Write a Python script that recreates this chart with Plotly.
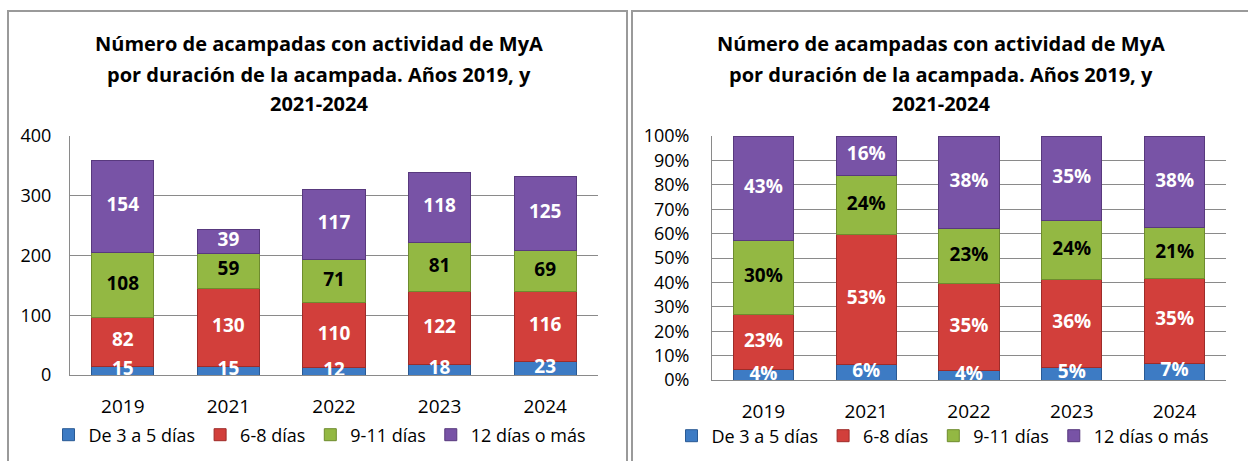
import plotly.graph_objects as go

years = ["2019", "2021", "2022", "2023", "2024"]
series_names = ["De 3 a 5 días", "6-8 días", "9-11 días", "12 días o más"]
v_3_5 = [15, 15, 12, 18, 23]
v_6_8 = [82, 130, 110, 122, 116]
v_9_11 = [108, 59, 71, 81, 69]
v_12 = [154, 39, 117, 118, 125]
y_ticks_abs = [0, 100, 200, 300, 400]
y_ticks_pct = [0, 10, 20, 30, 40, 50, 60, 70, 80, 90, 100]
title_lines = ["Número de acampadas con actividad de MyA",
               "por duración de la acampada. Años 2019, y",
               "2021-2024"]

series = [v_3_5, v_6_8, v_9_11, v_12]
colors = ["#3D7BC4", "#D23F3B", "#93B843", "#7853A6"]
edge = ["#2A5A94", "#9E2C29", "#6E8C2E", "#58397E"]
txt_col = ["white", "white", "black", "white"]

totals = [sum(s[i] for s in series) for i in range(len(years))]
pct = [[100.0 * s[i] / totals[i] for i in range(len(years))] for s in series]

W, H = 1248, 461
def px(x): return x / W
def py(y): return 1 - y / H

FONT = "Open Sans"
fig = go.Figure()

# Left chart (absolute)
cum = [0] * len(years)
for k, s in enumerate(series):
    fig.add_trace(go.Bar(x=years, y=s, name=series_names[k], marker=dict(color=colors[k], line=dict(color=edge[k], width=1)),
                         width=0.59, xaxis="x", yaxis="y", legend="legend", hoverinfo="skip"))
    mids = [cum[i] + s[i] / 2 for i in range(len(years))]
    fig.add_trace(go.Scatter(x=years, y=mids, mode="text", text=[str(v) for v in s],
                             textfont=dict(family=FONT, size=19, color=txt_col[k], weight="bold"),
                             cliponaxis=True, showlegend=False, xaxis="x", yaxis="y", hoverinfo="skip"))
    cum = [cum[i] + s[i] for i in range(len(years))]

# Right chart (percent)
cum = [0] * len(years)
for k, s in enumerate(pct):
    fig.add_trace(go.Bar(x=years, y=s, name=series_names[k], marker=dict(color=colors[k], line=dict(color=edge[k], width=1)),
                         width=0.585, xaxis="x2", yaxis="y2", legend="legend2", hoverinfo="skip"))
    mids = [cum[i] + s[i] / 2 for i in range(len(years))]
    fig.add_trace(go.Scatter(x=years, y=mids, mode="text", text=[f"{round(v)}%" for v in s],
                             textfont=dict(family=FONT, size=19, color=txt_col[k], weight="bold"),
                             cliponaxis=True, showlegend=False, xaxis="x2", yaxis="y2", hoverinfo="skip"))
    cum = [cum[i] + s[i] for i in range(len(years))]

grid = "#8A8A8A"
axis_common = dict(showline=True, linecolor=grid, linewidth=1, zeroline=False, automargin=False)
fig.update_layout(
    width=W, height=H, autosize=False,
    margin=dict(l=0, r=0, t=0, b=0, pad=0, autoexpand=False),
    paper_bgcolor="white", plot_bgcolor="white",
    barmode="stack", bargap=0.4,
    font=dict(family=FONT, color="black"),
    xaxis=dict(domain=[px(70), px(598)], anchor="y", type="category", showgrid=False,
               ticks="", tickfont=dict(size=19), ticklabelstandoff=14, **axis_common),
    yaxis=dict(domain=[py(375), py(136)], anchor="x", range=[0, 400], tickvals=y_ticks_abs,
               showgrid=True, gridcolor=grid, gridwidth=1, ticks="", tickfont=dict(size=18),
               ticklabelstandoff=14, **axis_common),
    xaxis2=dict(domain=[px(712), px(1226)], anchor="y2", type="category", showgrid=False,
                ticks="", tickfont=dict(size=19), ticklabelstandoff=14, **axis_common),
    yaxis2=dict(domain=[py(380), py(136)], anchor="x2", range=[0, 100], tickvals=y_ticks_pct,
                ticktext=[f"{t}%" for t in y_ticks_pct],
                showgrid=True, gridcolor=grid, gridwidth=1, ticks="", tickfont=dict(size=18),
                ticklabelstandoff=18, **axis_common),
    legend=dict(orientation="h", x=px(320), xanchor="center", y=py(435), yanchor="middle",
                font=dict(size=18), traceorder="normal", itemwidth=30, bgcolor="rgba(0,0,0,0)"),
    legend2=dict(orientation="h", x=px(943), xanchor="center", y=py(436), yanchor="middle",
                 font=dict(size=18), traceorder="normal", itemwidth=30, bgcolor="rgba(0,0,0,0)"),
    showlegend=True,
)

for cx in (319, 941):
    for ly, line in zip((44, 74, 103), title_lines):
        fig.add_annotation(text=line, xref="paper", yref="paper", x=px(cx), y=py(ly), xanchor="center", yanchor="middle",
                           showarrow=False, font=dict(family=FONT, size=20, weight="bold"), align="center")

box = dict(color="#9A9A9A", width=2)
fig.add_shape(type="rect", xref="paper", yref="paper", x0=px(8), x1=px(627), y0=-0.1, y1=py(11), line=box, layer="above")
fig.add_shape(type="rect", xref="paper", yref="paper", x0=px(632), x1=1.05, y0=-0.1, y1=py(11), line=box, layer="above")

fig.write_html("out.html", config={"displayModeBar": False}, post_script="document.body.style.margin='0px';")
